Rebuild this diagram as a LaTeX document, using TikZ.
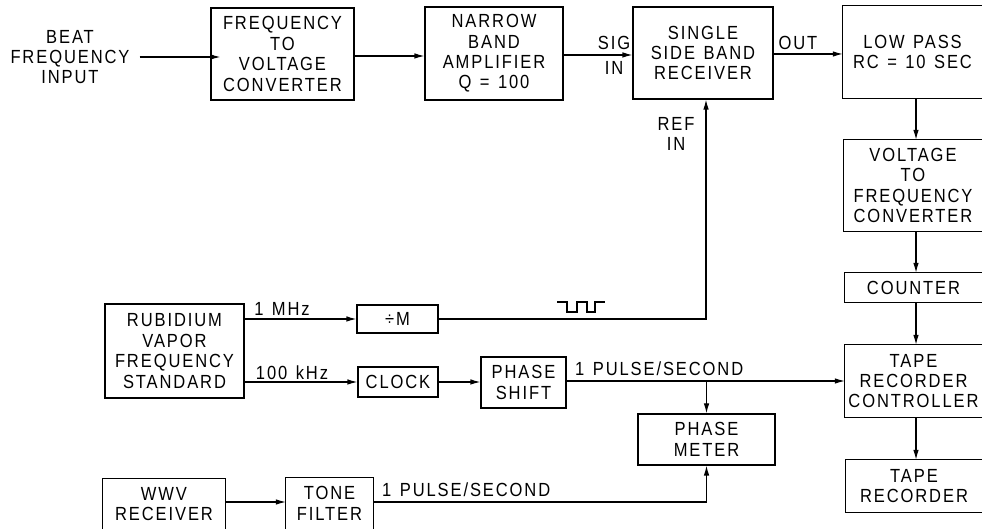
\documentclass[tikz,border=0pt]{standalone}
\usepackage{fontspec}
\setmainfont{Liberation Sans}[LetterSpace=10,FakeStretch=0.87,WordSpace=1.3]
\usetikzlibrary{arrows.meta}
\newcommand{\lbl}{\fontsize{19}{20.4}\selectfont}
\begin{document}
\begin{tikzpicture}[x=1pt,y=1pt,
  bline/.style={line width=1.1pt},
  box/.style={draw, line width=1.1pt, inner sep=0pt, align=center, font=\lbl},
  obox/.style={inner sep=0pt, align=center, font=\lbl},
  txt/.style={inner sep=0pt, align=center, font=\lbl},
  arr/.style={line width=1.1pt, -{Latex[length=10pt,width=5.5pt]}},
  wire/.style={line width=1.1pt}]
\useasboundingbox (0,0) rectangle (982,529);
\fill[white] (0,0) rectangle (982,529);
% top row
\node[txt] (beat) at (70,472) {BEAT\\FREQUENCY\\INPUT};
\node[box, minimum width=143, minimum height=92] (ftv) at (282.5,475) {FREQUENCY\\TO\\VOLTAGE\\CONVERTER};
\node[box, minimum width=138, minimum height=93] (nba) at (494,475.5) {NARROW\\BAND\\AMPLIFIER\\Q = 100};
\node[box, minimum width=140, minimum height=92] (ssb) at (703,476) {SINGLE\\SIDE BAND\\RECEIVER};
% right column (cut at right edge)
\node[obox, minimum width=139, minimum height=92] (lp) at (912.5,477) {LOW PASS\\RC = 10 SEC};
\node[obox, minimum width=138, minimum height=91] (vtf) at (913,343.5) {VOLTAGE\\TO\\FREQUENCY\\CONVERTER};
\node[obox, minimum width=137, minimum height=29] (cnt) at (913.5,241.5) {COUNTER};
\node[obox, minimum width=137, minimum height=72] (trc) at (913.5,148) {TAPE\\RECORDER\\CONTROLLER};
\node[obox, minimum width=136, minimum height=52] (tr) at (914,43) {TAPE\\RECORDER};
\foreach \n in {lp,vtf,cnt,trc,tr}{
  \draw[bline] (982,0 |- \n.north) -- (\n.north west) -- (\n.south west) -- (982,0 |- \n.south);
}
% middle
\node[box, minimum width=139, minimum height=94] (rub) at (174.5,178) {RUBIDIUM\\VAPOR\\FREQUENCY\\STANDARD};
\node[box, minimum width=81, minimum height=28] (divm) at (397.5,210) {÷M};
\node[box, minimum width=80, minimum height=30] (clk) at (398,147) {CLOCK};
\node[box, minimum width=85, minimum height=51] (ps) at (523.5,146.5) {PHASE\\SHIFT};
\node[box, minimum width=137, minimum height=51] (pm) at (706.5,89.5) {PHASE\\METER};
% bottom (cut at bottom edge)
\node[obox, minimum width=122, minimum height=50] (wwv) at (164,25) {WWV\\RECEIVER};
\node[obox, minimum width=87, minimum height=51] (tf) at (329.5,25.5) {TONE\\FILTER};
\foreach \n in {wwv,tf}{
  \draw[bline] (\n.west |- 0,0) -- (\n.north west) -- (\n.north east) -- (\n.east |- 0,0);
}
% coordinates
\coordinate (vx) at (916,0);
\coordinate (by) at (0,27);
% labels
\node[txt] (sig) at (614,486) {SIG};
\node[txt] (sigin) at (614,461) {IN};
\node[txt] (out) at (798,486) {OUT};
\node[txt] (refin) at (676,395) {REF\\IN};
\node[txt] (mhz) at (282,220) {1 MHz};
\node[txt] (khz) at (292,156.5) {100 kHz};
\node[txt, anchor=west] (pps1) at (575,160) {1 PULSE/SECOND};
\node[txt, anchor=west] (pps2) at (382,39) {1 PULSE/SECOND};
% connectors top
\draw[arr] ([xshift=10pt]beat.east) -- ([xshift=10pt]beat.east -| ftv.west);
\draw[arr] ([yshift=-2pt]ftv.east) -- ([yshift=-2pt]ftv.east -| nba.west);
\draw[arr] ([yshift=-1.5pt]nba.east) -- ([yshift=-1.5pt]nba.east -| ssb.west);
\draw[arr] ([yshift=-1pt]ssb.east) -- ([yshift=-1pt]ssb.east -| lp.west);
\draw[arr] (lp.south -| vx) -- (vtf.north -| vx);
\draw[arr] (vtf.south -| vx) -- (cnt.north -| vx);
\draw[arr] (cnt.south -| vx) -- (trc.north -| vx);
\draw[arr] (trc.south -| vx) -- (tr.north -| vx);
% reference path
\draw[arr] (divm.east) -| ([xshift=3pt]ssb.south);
\draw[wire] (557,227) -- (567,227) -- (567,217) -- (577,217) -- (577,227) -- (587,227) -- (587,217) -- (595,217) -- (595,227) -- (605,227);
% rubidium outputs
\draw[arr] (rub.east |- divm.west) -- (divm.west);
\draw[arr] (rub.east |- clk.west) -- (clk.west);
\draw[arr] (clk.east) -- (clk.east -| ps.west);
\draw[arr] (ps.east |- trc.west) -- (trc.west);
\draw[arr] (pm.north |- trc.west) -- (pm.north);
% bottom
\draw[arr] (wwv.east |- by) -- (tf.west |- by);
\draw[arr] (tf.east |- by) -| (pm.south);
\end{tikzpicture}
\end{document}
